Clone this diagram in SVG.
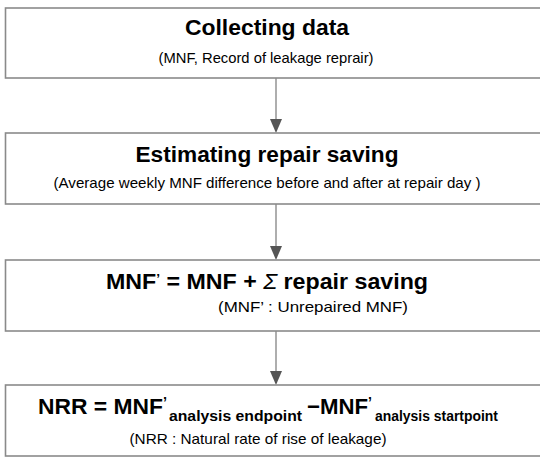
<svg xmlns="http://www.w3.org/2000/svg" width="540" height="457" viewBox="0 0 540 457">
<style>
.box{fill:#fff;stroke:#8a8a8a;stroke-width:1.6}
.t{font-family:"Liberation Sans",Arial,sans-serif;font-weight:bold;font-size:22px;fill:#000;text-anchor:middle}
.s{font-family:"Liberation Sans",Arial,sans-serif;font-size:15px;fill:#000;text-anchor:middle}
.sub{font-family:"Liberation Sans",Arial,sans-serif;font-weight:bold;font-size:15px;fill:#000}
.big{font-family:"Liberation Sans",Arial,sans-serif;font-weight:bold;font-size:22px;fill:#000}
.ln{stroke:#9a9a9a;stroke-width:1.6;fill:none}
.ah{fill:#555}
</style>
<rect width="540" height="457" fill="#fff"/>
<g id="connectors">
<line class="ln" x1="276" y1="78" x2="276" y2="122"/>
<polygon class="ah" points="270,119 282,119 276,133"/>
<line class="ln" x1="276" y1="204" x2="276" y2="249"/>
<polygon class="ah" points="270,246 282,246 276,260"/>
<line class="ln" x1="276" y1="331" x2="276" y2="374"/>
<polygon class="ah" points="270,371 282,371 276,385"/>
</g>
<g id="node1">
<rect class="box" x="5.5" y="8" width="545" height="70"/>
<text class="t" x="267" y="35" textLength="164" lengthAdjust="spacingAndGlyphs">Collecting data</text>
<text class="s" x="266" y="63" textLength="215" lengthAdjust="spacingAndGlyphs">(MNF, Record of leakage reprair)</text>
</g>
<g id="node2">
<rect class="box" x="5.5" y="133" width="545" height="71"/>
<text class="t" x="267" y="162" textLength="263" lengthAdjust="spacingAndGlyphs">Estimating repair saving</text>
<text class="s" x="267" y="188" textLength="427" lengthAdjust="spacingAndGlyphs">(Average weekly MNF difference before and after at repair day )</text>
</g>
<g id="node3">
<rect class="box" x="5.5" y="260" width="545" height="71"/>
<text class="t" x="267" y="289" textLength="322" lengthAdjust="spacingAndGlyphs">MNF<tspan font-size="13" dy="-6">’</tspan><tspan dy="6"> = MNF +  </tspan><tspan font-weight="normal" font-style="italic">Σ</tspan> repair saving</text>
<text class="s" x="313" y="312" textLength="190" lengthAdjust="spacingAndGlyphs">(MNF’ : Unrepaired MNF)</text>
</g>
<g id="node4">
<rect class="box" x="5.5" y="385" width="545" height="71"/>
<text x="38" y="414" class="big" textLength="129" lengthAdjust="spacingAndGlyphs">NRR = MNF<tspan font-size="14" dy="-7">’</tspan></text>
<text x="169" y="421" class="sub" textLength="133" lengthAdjust="spacingAndGlyphs">analysis endpoint</text>
<text x="307" y="414" class="big" textLength="65" lengthAdjust="spacingAndGlyphs">−MNF<tspan font-size="14" dy="-7">’</tspan></text>
<text x="375" y="421" class="sub" textLength="123" lengthAdjust="spacingAndGlyphs">analysis startpoint</text>
<text class="s" x="258" y="444" textLength="257" lengthAdjust="spacingAndGlyphs">(NRR : Natural rate of rise of leakage)</text>
</g>
</svg>
